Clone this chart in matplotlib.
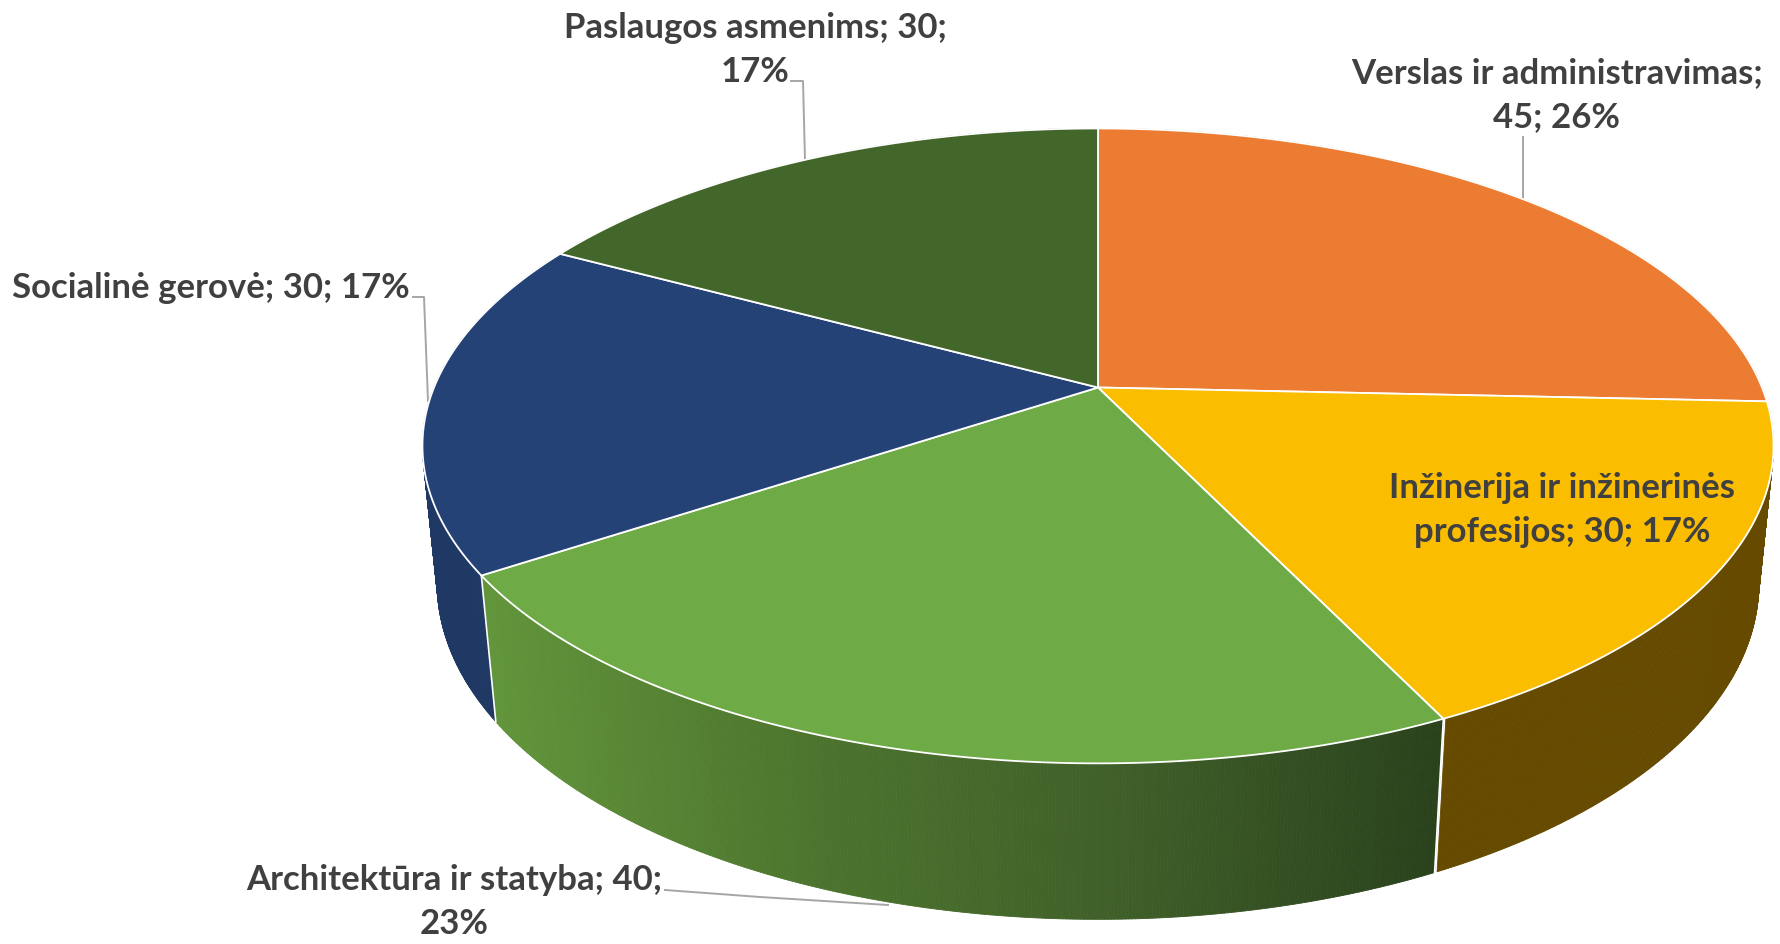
import matplotlib
matplotlib.use('Agg')
import matplotlib.pyplot as plt
import numpy as np
from matplotlib.collections import PolyCollection
from matplotlib.colors import LinearSegmentedColormap

categories = ['Verslas ir administravimas', 'Inžinerija ir inžinerinės profesijos',
              'Architektūra ir statyba', 'Socialinė gerovė', 'Paslaugos asmenims']
values = [45, 30, 40, 30, 30]
top_colors = ['#ec7c31', '#fbbd00', '#6eab47', '#254277', '#43672a']
side_colors = [None, '#654a00', None, '#1f3864', None]
green_side = LinearSegmentedColormap.from_list('green_side', ['#61953a', '#4d752e', '#3f5f29', '#2a421c'])

# where the line breaks fall, and label centre in pixels
label_breaks = [
    '{name};\n{val}; {pct}%',
    'Inžinerija ir inžinerinės\nprofesijos; {val}; {pct}%',
    '{name}; {val};\n{pct}%',
    '{name}; {val}; {pct}%',
    '{name}; {val};\n{pct}%',
]
label_pos = [(1557, 95), (1562, 510), (454, 902), (211, 288), (755, 50)]
leaders = [
    [(1523, 137), (1523, 200)],
    None,
    [(665, 890), (760, 897), (888, 905)],
    [(413, 297), (424, 297), (428, 401)],
    [(791, 81), (803, 81), (805, 160)],
]

plt.rcParams['font.family'] = ['Lato', 'DejaVu Sans']


# perspective of the pie disc, theta runs clockwise from the top (degrees)
def rim(theta, cx, cy, a, b, p):
    t = np.radians(theta)
    d = 1 + p * np.cos(t)
    return cx + a * np.sin(t) / d, cy - b * np.cos(t) / d


def top_rim(theta):
    return rim(theta, 1098.0, 387.5, 664.0, 306.7, 0.184)


def bottom_rim(theta):
    return rim(theta, 1098.0, 523, 650, 325, 0.18)


fig = plt.figure(figsize=(17.81, 9.44), dpi=100)
ax = fig.add_axes([0, 0, 1, 1])
ax.set_xlim(0, 1781)
ax.set_ylim(944, 0)
ax.axis('off')

total = sum(values)
edges = np.cumsum([0] + values) / total * 360

# side wall first, made of thin strips
for i in range(len(values)):
    if edges[i] >= 300 or edges[i + 1] <= 60:
        continue
    th = np.arange(edges[i], edges[i + 1] + 0.01, 0.25)
    x1, y1 = top_rim(th)
    x2, y2 = bottom_rim(th)
    strips = [[(x1[j], y1[j]), (x1[j + 1], y1[j + 1]), (x2[j + 1], y2[j + 1]), (x2[j], y2[j])]
              for j in range(len(th) - 1)]
    if side_colors[i] is None:
        pos = (x2[:-1] - x2.min()) / (x2.max() - x2.min())
        cols = [green_side(q) for q in pos]
    else:
        cols = [side_colors[i]] * len(strips)
    ax.add_collection(PolyCollection(strips, facecolors=cols, edgecolors=cols, linewidths=0.6, zorder=1))

# white joints between the side walls
for e in edges:
    if 120 < e < 250:
        xa, ya = top_rim(e)
        xb, yb = bottom_rim(e)
        ax.plot([xa, xb], [ya, yb], color='white', lw=1.2, zorder=2)

# top of the pie
for i in range(len(values)):
    th = np.linspace(edges[i], edges[i + 1], 200)
    x, y = top_rim(th)
    xs = np.r_[1098.0, x]
    ys = np.r_[387.5, y]
    ax.fill(xs, ys, facecolor=top_colors[i], edgecolor='white', lw=1.3, joinstyle='round', zorder=3)

for i, name in enumerate(categories):
    pct = round(values[i] / total * 100)
    txt = label_breaks[i].format(name=name, val=values[i], pct=pct)
    ax.text(label_pos[i][0], label_pos[i][1], txt, ha='center', va='center', fontsize=25,
            fontweight='bold', color='#404040', linespacing=1.45, zorder=5)
    if leaders[i] is not None:
        ax.plot([q[0] for q in leaders[i]], [q[1] for q in leaders[i]], color='#a6a6a6', lw=1.4, zorder=2.5)

fig.savefig('out.png', dpi=100, facecolor='white')
